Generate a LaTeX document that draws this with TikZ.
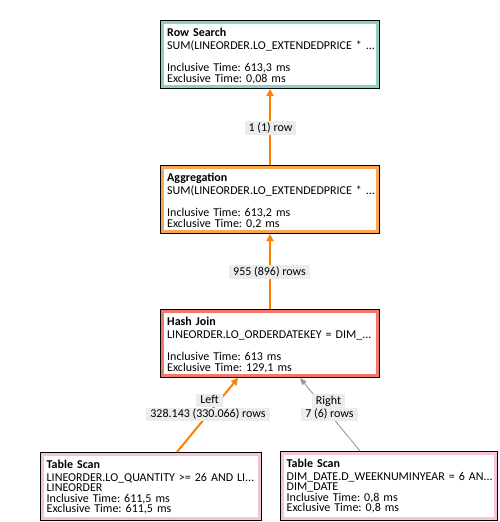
\documentclass[tikz,border=0pt]{standalone}
\usepackage{fontspec}
\setmainfont{Carlito}
\frenchspacing
\usetikzlibrary{arrows.meta}
\definecolor{rscol}{HTML}{8DCFC3}
\definecolor{aggcol}{HTML}{F8A850}
\definecolor{hjcol}{HTML}{F2786C}
\definecolor{tscol}{HTML}{F5C4DC}
\definecolor{arrorange}{HTML}{FF8000}
\definecolor{arrgrey}{HTML}{999999}
\definecolor{lblgrey}{HTML}{ECECEC}
\newcommand\boxfont{\fontsize{12}{11}\selectfont\frenchspacing\lineskiplimit=-20pt\lineskip=0pt}
\newcommand\boxfontb{\fontsize{12}{10.5}\selectfont\frenchspacing\lineskiplimit=-20pt\lineskip=0pt}
\newcommand\lblfont{\fontsize{12}{12}\selectfont\frenchspacing}
\tikzset{
  opbox/.style={draw=#1, line width=3pt, fill=white,
    preaction={draw=black, line width=5pt},
    outer sep=2.5pt, inner sep=0pt, anchor=north west},
  optext/.style={anchor=north west, inner sep=0pt, align=left,
    text width=212pt, font=\boxfont},
  optextb/.style={optext, font=\boxfontb},
  lbl/.style={fill=lblgrey, inner xsep=4pt, inner ysep=1.2pt,
    text height=8.5pt, text depth=2.5pt, font=\lblfont},
  oarrow/.style={draw=arrorange, line width=2pt,
    -{Triangle[width=7pt,length=7pt]}},
  garrow/.style={draw=arrgrey, line width=0.9pt,
    -{Triangle[width=5.5pt,length=7pt]}},
}
\begin{document}
\begin{tikzpicture}[x=1pt,y=-1pt]
\useasboundingbox (0,0) rectangle (500,522);

% boxes
\node[opbox=rscol, minimum width=215pt, minimum height=64pt] (rs) at (160,20) {};
\node[opbox=aggcol, minimum width=215pt, minimum height=64pt] (agg) at (160,165) {};
\node[opbox=hjcol, minimum width=215pt, minimum height=64pt] (hj) at (160,309) {};
\node[opbox=tscol, minimum width=217pt, minimum height=64pt] (tsl) at (40,452) {};
\node[opbox=tscol, minimum width=213pt, minimum height=65pt] (tsr) at (280,451) {};

% box texts
\node[optext] (rst) at ([xshift=7pt,yshift=-7pt]rs.north west)
  {\rule{0pt}{9pt}\textbf{Row Search}\\[2pt]
   SUM(LINEORDER.LO\_EXTENDEDPRICE * ...\\[11pt]
   Inclusive Time: 613,3 ms\\
   Exclusive Time: 0,08 ms};
\node[optext] (aggt) at ([xshift=7pt,yshift=-7pt]agg.north west)
  {\rule{0pt}{9pt}\textbf{Aggregation}\\[2pt]
   SUM(LINEORDER.LO\_EXTENDEDPRICE * ...\\[11pt]
   Inclusive Time: 613,2 ms\\
   Exclusive Time: 0,2 ms};
\node[optext] (hjt) at ([xshift=7pt,yshift=-7pt]hj.north west)
  {\rule{0pt}{9pt}\textbf{Hash Join}\\[2pt]
   LINEORDER.LO\_ORDERDATEKEY = DIM\_...\\[11pt]
   Inclusive Time: 613 ms\\
   Exclusive Time: 129,1 ms};
\node[optextb] (tslt) at ([xshift=6.5pt,yshift=-7pt]tsl.north west)
  {\rule{0pt}{9pt}\textbf{Table Scan}\\[2.5pt]
   LINEORDER.LO\_QUANTITY >= 26 AND LI...\\
   LINEORDER\\
   Inclusive Time: 611,5 ms\\
   Exclusive Time: 611,5 ms};
\node[optextb] (tsrt) at ([xshift=6.5pt,yshift=-7pt]tsr.north west)
  {\rule{0pt}{9pt}\textbf{Table Scan}\\[2.5pt]
   DIM\_DATE.D\_WEEKNUMINYEAR = 6 AN...\\
   DIM\_DATE\\
   Inclusive Time: 0,8 ms\\
   Exclusive Time: 0,8 ms};

% connectors
\draw[oarrow] (agg.north) -- (rs.south);
\draw[oarrow] (hj.north) -- (agg.south);
\draw[oarrow] ([xshift=26pt]tsl.north) -- ([xshift=-32pt]hj.south);
\draw[garrow] ([xshift=-29pt]tsr.north) -- ([xshift=30pt]hj.south);

% connector labels
\node[lbl] (l1) at (270.5,128) {1 (1) row};
\node[lbl] (l2) at (269.5,272) {955 (896) rows};
\node[lbl] (l3a) at (209.5,400.5) {Left};
\node[lbl] (l3b) at (208,414.5) {328.143 (330.066) rows};
\node[lbl] (l4a) at (328.5,401) {Right};
\node[lbl] (l4b) at (329.5,414.5) {7 (6) rows};
\end{tikzpicture}
\end{document}
